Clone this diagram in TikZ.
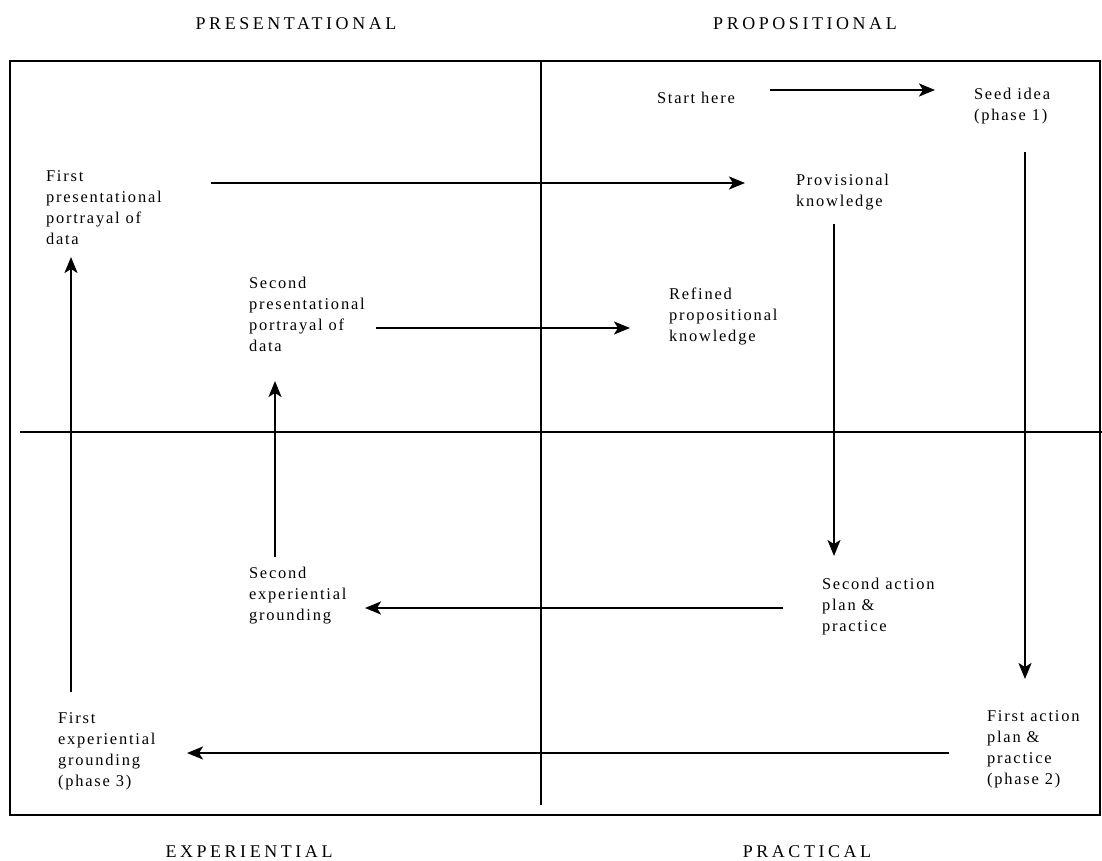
\documentclass[tikz,border=0pt]{standalone}
\usepackage{fontspec}
\setmainfont{Liberation Serif}[LetterSpace=11]
\newfontfamily\headfont{Liberation Serif}[LetterSpace=20]
\usetikzlibrary{arrows.meta}
\begin{document}
\begin{tikzpicture}[x=1bp,y=-1bp,
  lbl/.style={anchor=base west,inner sep=0pt,outer sep=0pt,align=left,
    font=\fontsize{16.5}{21}\selectfont},
  hdr/.style={anchor=base,inner sep=0pt,font=\headfont\fontsize{18}{21}\selectfont},
  frame/.style={line width=2.6bp},
  arr/.style={line width=2.2bp,-{Stealth[length=16bp,width=13bp,inset=4bp]}}]
\useasboundingbox (0,0) rectangle (1102,861);
% frame and dividers
\draw[frame] (10,61) rectangle (1100,815);
\draw[frame] (541,61) -- (541,805);
\draw[frame] (20,432) -- (1102,432);
% headers
\node[hdr] (hpres) at (296,29) {PRESENTATIONAL};
\node[hdr] (hprop) at (805,29) {PROPOSITIONAL};
\node[hdr] (hexp) at (249,857) {EXPERIENTIAL};
\node[hdr] (hprac) at (807,857) {PRACTICAL};
% labels (anchored at the baseline of their last line)
\node[lbl] (start) at (657,103) {Start here};
\node[lbl] (seed) at (974,120) {Seed idea\\(phase 1)};
\node[lbl] (prov) at (796,206) {Provisional\\knowledge};
\node[lbl] (fpp) at (46,244) {First\\presentational\\portrayal of\\data};
\node[lbl] (spp) at (249,351) {Second\\presentational\\portrayal of\\data};
\node[lbl] (ref) at (669,341) {Refined\\propositional\\knowledge};
\node[lbl] (sap) at (822,631) {Second action\\plan \&\\practice};
\node[lbl] (sexp) at (249,620) {Second\\experiential\\grounding};
\node[lbl] (fap) at (987,784) {First action\\plan \&\\practice\\(phase 2)};
\node[lbl] (fexp) at (58,786) {First\\experiential\\grounding\\(phase 3)};
% connector ends
\coordinate (a1s) at (770,90);   \coordinate (a1e) at (935,90);
\coordinate (a2s) at (1025,152); \coordinate (a2e) at (1025,679);
\coordinate (a3s) at (949,753);  \coordinate (a3e) at (187,753);
\coordinate (a4s) at (71,692);   \coordinate (a4e) at (71,257);
\coordinate (a5s) at (211,183);  \coordinate (a5e) at (745,183);
\coordinate (a6s) at (834,224);  \coordinate (a6e) at (834,556);
\coordinate (a7s) at (783,608);  \coordinate (a7e) at (365,608);
\coordinate (a8s) at (275,557);  \coordinate (a8e) at (275,381);
\coordinate (a9s) at (376,328);  \coordinate (a9e) at (630,328);
\draw[arr] (a1s) -- (a1e);
\draw[arr] (a2s) -- (a2e);
\draw[arr] (a3s) -- (a3e);
\draw[arr] (a4s) -- (a4e);
\draw[arr] (a5s) -- (a5e);
\draw[arr] (a6s) -- (a6e);
\draw[arr] (a7s) -- (a7e);
\draw[arr] (a8s) -- (a8e);
\draw[arr] (a9s) -- (a9e);
\end{tikzpicture}
\end{document}
